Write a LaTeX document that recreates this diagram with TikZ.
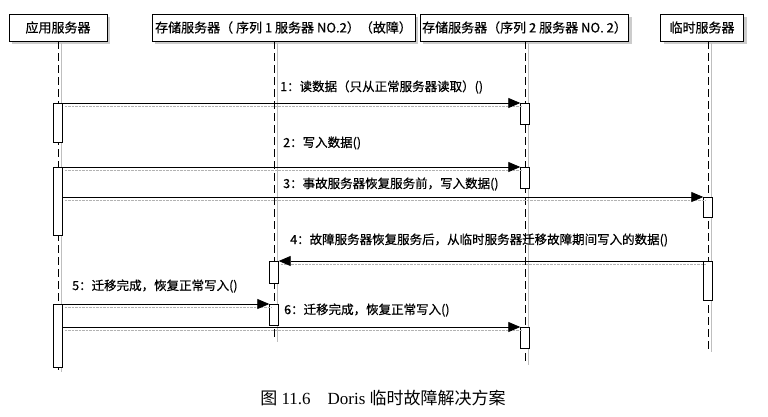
\documentclass[tikz,border=0pt]{standalone}
\usepackage{fontspec}
\setmainfont{Liberation Serif}
\newfontfamily\cjk{Noto Sans CJK SC}
\newfontfamily\cjkb[FakeBold=0.5]{Noto Sans CJK SC}
\usetikzlibrary{arrows.meta, shadows}

\begin{document}
\begin{tikzpicture}[x=1pt, y=-1pt,
    hdr/.style={draw, thick, fill=white, inner sep=2pt, minimum height=27pt,
                font=\cjkb\fontsize{13}{15}\selectfont,
                drop shadow={shadow xshift=3pt, shadow yshift=-3pt, fill=black!40}},
    act/.style={draw, fill=white, anchor=north, minimum width=9pt, inner sep=0pt},
    life/.style={thick, dash pattern=on 8pt off 4pt,
                 preaction={draw=black!25, densely dotted, thin, solid,
                            transform canvas={shift={(3pt,-2pt)}}}},
    msg/.style={-{Triangle[length=12pt, width=10pt]}, line width=0.8pt,
                preaction={draw=black!30, densely dotted, thin, -,
                           transform canvas={shift={(2pt,-3pt)}}}},
    lbl/.style={anchor=west, inner sep=0pt, font=\cjkb\fontsize{12.5}{14}\selectfont},
  ]
    \useasboundingbox (0,0) rectangle (768,416);

    % Headers -- left to right
    \node[hdr, minimum width=98pt]  (app) at (58,27.5)  {应用服务器};
    \node[hdr, minimum width=263pt] (st1) at (283.5,27.5) {存储服务器（ 序列 1 服务器 NO.2）（故障）};
    \node[hdr, minimum width=203pt] (st2) at (524.5,27.5) {存储服务器（序列 2 服务器 NO. 2）};
    \node[hdr, minimum width=83pt]  (tmp) at (702,27.5) {临时服务器};

    % Lifelines
    \coordinate (append) at (58,370);
    \coordinate (st1end) at (274,340);
    \coordinate (st2end) at (525,363);
    \coordinate (tmpend) at (708,350);
    \draw[life] (app.south -| append) -- (append);
    \draw[life] (st1.south -| st1end) -- (st1end);
    \draw[life] (st2.south -| st2end) -- (st2end);
    \draw[life] (tmp.south -| tmpend) -- (tmpend);

    % Activations
    \node[act, minimum height=39pt] (appa1) at (58,103) {};
    \node[act, minimum height=21pt] (st2a1) at (525,103) {};
    \node[act, minimum height=68pt] (appa2) at (58,167) {};
    \node[act, minimum height=21pt] (st2a2) at (525,167) {};
    \node[act, minimum height=20pt] (tmpa1) at (708,197) {};
    \node[act, minimum height=39pt] (tmpa2) at (708,261) {};
    \node[act, minimum height=22pt] (st1a1) at (274,261) {};
    \node[act, minimum height=63pt] (appa3) at (58,304) {};
    \node[act, minimum height=21pt] (st1a2) at (274,304) {};
    \node[act, minimum height=21pt] (st2a3) at (525,327) {};

    % Messages
    \draw[msg] (appa1.north east) -- (st2a1.north west);
    \draw[msg] (appa2.north east) -- (st2a2.north west);
    \draw[msg] (appa2.east |- tmpa1.north) -- (tmpa1.north west);
    \draw[msg] (tmpa2.north west) -- (st1a1.north east);
    \draw[msg] (appa3.north east) -- (st1a2.north west);
    \draw[msg] (appa3.east |- st2a3.north) -- (st2a3.north west);

    % Labels
    \node[lbl] (l1) at (280,87)  {1：读数据（只从正常服务器读取）()};
    \node[lbl] (l2) at (283,143) {2：写入数据()};
    \node[lbl] (l3) at (283,184) {3：事故服务器恢复服务前，写入数据()};
    \node[lbl] (l4) at (290,240) {4：故障服务器恢复服务后，从临时服务器迁移故障期间写入的数据()};
    \node[lbl] (l5) at (72,286)  {5：迁移完成，恢复正常写入()};
    \node[lbl] (l6) at (284,310) {6：迁移完成，恢复正常写入()};

    % Caption
    \node[font=\fontsize{17}{20}\selectfont] (cap) at (383,398)
      {{\cjk 图} 11.6\quad Doris {\cjk 临时故障解决方案}};
\end{tikzpicture}
\end{document}
